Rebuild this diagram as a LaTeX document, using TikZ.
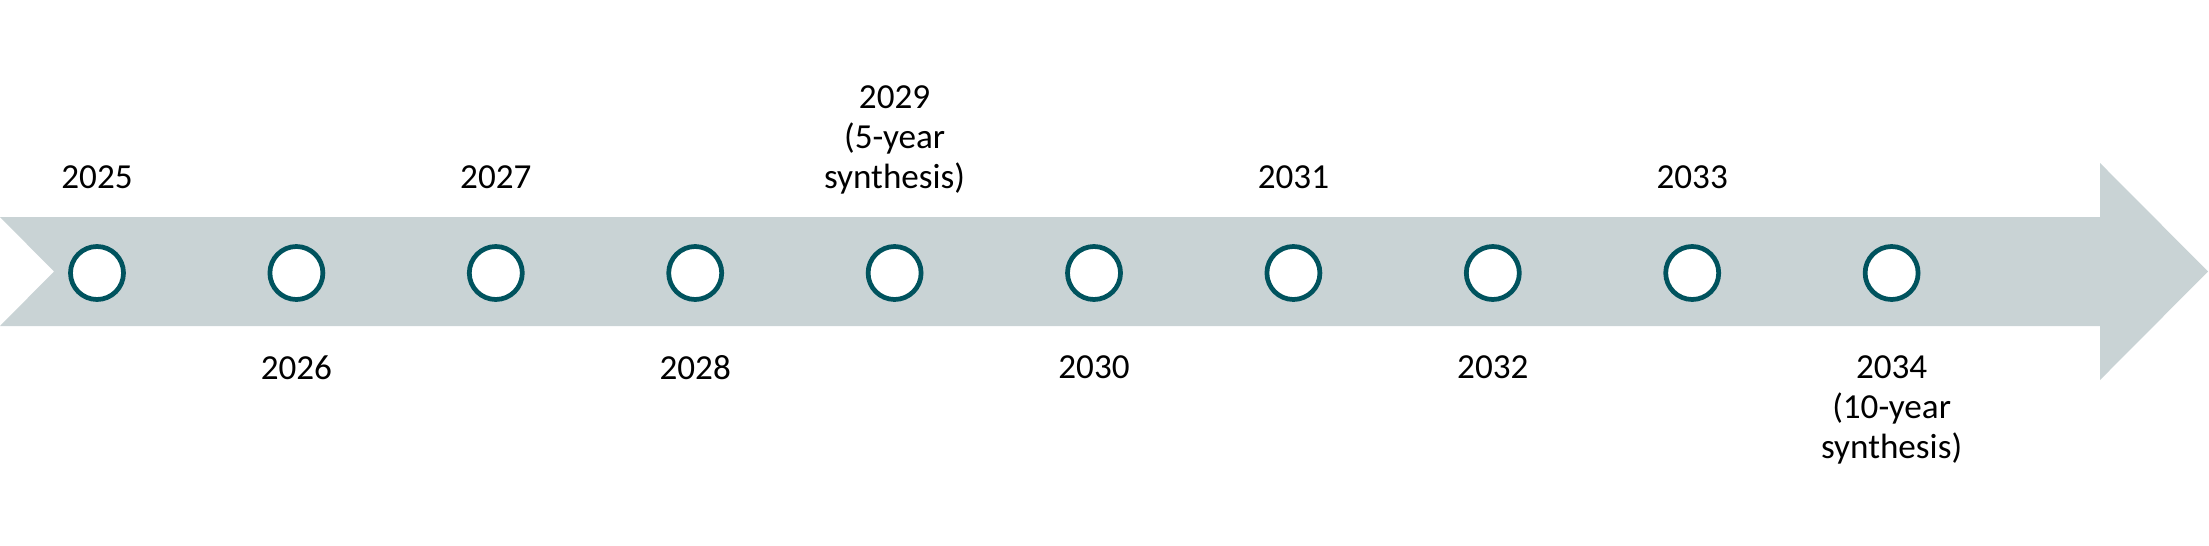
\documentclass[tikz,border=0pt]{standalone}
\usepackage{fontspec}
\setmainfont{Carlito}
\usetikzlibrary{positioning}
\definecolor{bandgray}{HTML}{C9D3D5}
\definecolor{dotteal}{HTML}{00535E}

\begin{document}
\begin{tikzpicture}[
    dot/.style={draw=dotteal, line width=1.35pt, fill=white, circle, minimum size=0.53cm, inner sep=0pt},
    yr/.style={font=\fontsize{10}{11.4}\selectfont, align=center, inner sep=0pt, anchor=north},
    yrabove/.style={yr, yshift=1.08cm},
    yrbelow/.style={yr, yshift=-0.82cm}]

        \useasboundingbox (0,0) rectangle (22.09,5.45);

        % Timeline arrow
        \fill[bandgray] (0,3.28) -- (21.00,3.28) -- (21.00,3.82) -- (22.08,2.735) -- (21.00,1.65) -- (21.00,2.19) -- (0,2.19) -- (0.54,2.735) -- cycle;

        % Year markers on the band
        \foreach \i in {0,...,9}
            \node[dot] (c\i) at ({0.97+1.994*\i},2.72) {};

        % Years above the band
        \node[yrabove] (y2025) at (c0) {2025};
        \node[yrabove] (y2027) at (c2) {2027};
        \node[yrabove, yshift=0.8cm] (y2029) at (c4) {2029\\(5-year\\synthesis)};
        \node[yrabove] (y2031) at (c6) {2031};
        \node[yrabove] (y2033) at (c8) {2033};

        % Years below the band
        \node[yrbelow] (y2026) at (c1) {2026};
        \node[yrbelow] (y2028) at (c3) {2028};
        \node[yrbelow] (y2030) at (c5) {2030};
        \node[yrbelow] (y2032) at (c7) {2032};
        \node[yrbelow] (y2034) at (c9) {2034\\(10-year\\synthesis)};

    \end{tikzpicture}
\end{document}
